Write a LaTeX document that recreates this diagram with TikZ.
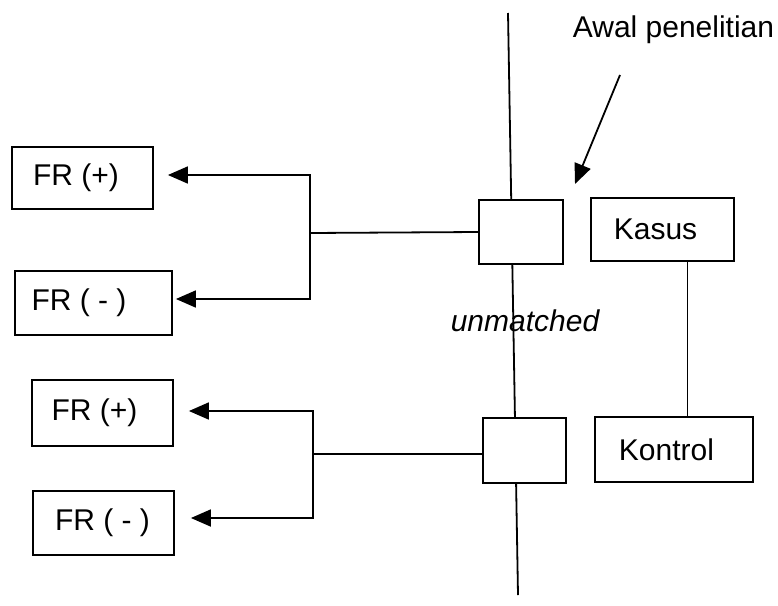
\documentclass[tikz,border=0pt]{standalone}
\usepackage{fontspec}
\setmainfont{Liberation Sans}
\usetikzlibrary{arrows.meta,backgrounds}
\begin{document}
\begin{tikzpicture}[x=1pt,y=-1pt,
  box/.style={draw,line width=1.8pt,fill=white,inner sep=0pt,font=\fontsize{30}{36}\selectfont},
  ln/.style={line width=1.8pt},
  arr/.style={line width=1.8pt,-{Triangle[length=20pt,width=17pt]}},
  lbl/.style={font=\fontsize{30}{36}\selectfont,inner sep=0pt}]
\useasboundingbox (0,0) rectangle (778,605);
% boxes
\node[box,minimum width=141pt,minimum height=62pt] (fp1) at (82.5,178) {FR (+)\hspace*{13pt}};
\node[box,minimum width=157pt,minimum height=64pt] (fm1) at (93.5,303) {FR ( - )\hspace*{29pt}};
\node[box,minimum width=141pt,minimum height=66pt] (fp2) at (102.5,413) {FR (+)\hspace*{16pt}};
\node[box,minimum width=141pt,minimum height=64pt] (fm2) at (103.5,523) {FR ( - )\hspace*{2pt}};
\node[box,minimum width=84pt,minimum height=64pt] (sq1) at (521,232) {};
\node[box,minimum width=83pt,minimum height=65pt] (sq2) at (524.5,450.5) {};
\node[box,minimum width=143pt,minimum height=63pt] (kasus) at (662.5,229.5) {Kasus\hspace*{14pt}};
\node[box,minimum width=158pt,minimum height=65pt] (kontrol) at (674,449.5) {Kontrol\hspace*{15pt}};
% labels
\node[lbl,anchor=base] (awal) at (673.5,37) {Awal penelitian};
\node[lbl,anchor=base,font=\fontsize{30}{36}\selectfont\itshape] (unm) at (525,331) {unmatched};
% time line
\begin{scope}[on background layer]
\coordinate (ttop) at (508,13);
\coordinate (tbot) at (518,595);
\draw[ln] (ttop) -- (tbot);
\end{scope}
% top group
\coordinate (j1) at (310,233);
\draw[ln] (sq1.west) -- (j1);
\draw[arr] (j1) |- ([xshift=14pt,yshift=3pt]fp1.east);
\draw[arr] (j1) |- ([xshift=3pt,yshift=4pt]fm1.east);
% bottom group
\coordinate (j2) at (313,454);
\draw[ln] ([yshift=-3.5pt]sq2.west) -- (j2);
\draw[arr] (j2) |- ([xshift=15pt,yshift=2pt]fp2.east);
\draw[arr] (j2) |- ([xshift=16pt,yshift=5pt]fm2.east);
% kasus - kontrol
\draw[ln] ([xshift=25pt]kasus.south) -- ([xshift=25pt]kasus.south |- kontrol.north);
% pointer arrow
\coordinate (ps) at (620,75);
\coordinate (pe) at (575,184);
\draw[arr] (ps) -- (pe);
\end{tikzpicture}
\end{document}
